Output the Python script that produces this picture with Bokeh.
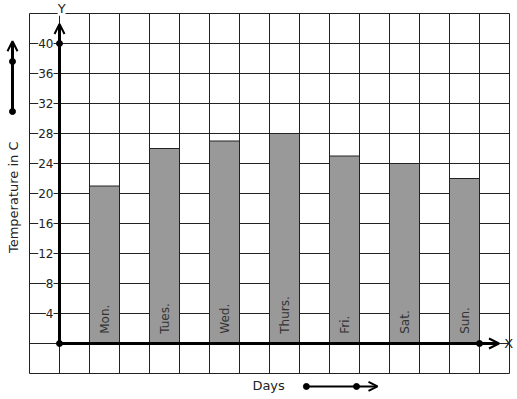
import math
from bokeh.plotting import figure
from bokeh.models import ColumnDataSource, Arrow, OpenHead
from bokeh.core.properties import value
from bokeh.embed import file_html
from bokeh.resources import INLINE

days = ["Mon.", "Tues.", "Wed.", "Thurs.", "Fri.", "Sat.", "Sun."]
temps = [21, 26, 27, 28, 25, 24, 22]
y_ticks = [4, 8, 12, 16, 20, 24, 28, 32, 36, 40]
y_tick_labels = ["4", "8", "12", "16", "20", "24", "28", "32", "36", "40"]

FONT = value("DejaVu Sans")

# pixel scale: 30 px per x unit, 7.5 px per degree; origin at (59, 343)
p = figure(width=517, height=399,
           x_range=(-59 / 30, 458 / 30), y_range=(-56 / 7.5, 343 / 7.5),
           x_axis_type=None, y_axis_type=None, min_border=0,
           toolbar_location=None, output_backend="svg")
p.outline_line_color = None
p.background_fill_color = "white"
p.border_fill_color = "white"

# grid paper
gx0, gx1, gy0, gy1 = -1, 15, -4, 44
xs_v = list(range(gx0, gx1 + 1))
ys_h = list(range(gy0, gy1 + 1, 4))

p.segment(x0=xs_v, y0=[gy0] * len(xs_v), x1=xs_v, y1=[gy1] * len(xs_v),
          line_color="#222222", line_width=1)
p.segment(x0=[gx0] * len(ys_h), y0=ys_h, x1=[gx1] * len(ys_h), y1=ys_h,
          line_color="#222222", line_width=1)

# bars
bar_left = [1 + 2 * i for i in range(len(days))]
bar_center = [b + 0.5 for b in bar_left]
src = ColumnDataSource(dict(x=bar_center, top=temps, label=days))
p.vbar(x="x", top="top", bottom=0, width=1, source=src,
       fill_color="#999999", line_color="#222222", line_width=1)

# bar labels
p.text(x="x", y=1.3, text="label", source=src, angle=math.pi / 2,
       text_align="left", text_baseline="middle", text_font=FONT,
       text_font_size="12px", text_color="#333333")

# axes
p.add_layout(Arrow(x_start=0, y_start=0, x_end=0, y_end=42.6,
                   line_width=3, line_color="black",
                   end=OpenHead(size=10, line_width=2, line_color="black")))
p.add_layout(Arrow(x_start=0, y_start=0, x_end=14.65, y_end=0,
                   line_width=3, line_color="black",
                   end=OpenHead(size=10, line_width=2, line_color="black")))
p.scatter(x=[0, 0, 14], y=[0, 40, 0], size=6, color="black")

# tick labels
p.text(x=[-0.2] * len(y_ticks), y=y_ticks, text=y_tick_labels,
       text_align="right", text_baseline="middle", text_font=FONT,
       text_font_size="12px", text_color="#222222",
       background_fill_color="white")

p.text(x=[0.07], y=[44.7], text=["Y"], text_align="center",
       text_baseline="middle", text_font=FONT, text_font_size="13px",
       text_color="#222222", background_fill_color="white")
p.text(x=[14.97], y=[0], text=["X"], text_align="center",
       text_baseline="middle", text_font=FONT, text_font_size="13px",
       text_color="#222222")

# axis titles
p.text(x=[-1.53], y=[19.5], text=["Temperature in C"], angle=math.pi / 2,
       text_align="center", text_baseline="middle", text_font=FONT,
       text_font_size="13px", text_color="#222222")
p.text(x=[6.97], y=[-5.6], text=["Days"], text_align="center",
       text_baseline="middle", text_font=FONT, text_font_size="13px",
       text_color="#222222")

# decorative arrows
p.add_layout(Arrow(x_start=-1.567, y_start=30.93, x_end=-1.567, y_end=40.3,
                   line_width=3, line_color="black",
                   end=OpenHead(size=10, line_width=2, line_color="black")))
p.scatter(x=[-1.567, -1.567], y=[30.93, 37.6], size=6, color="black")
p.add_layout(Arrow(x_start=8.23, y_start=-5.73, x_end=10.6, y_end=-5.73,
                   line_width=2, line_color="black",
                   end=OpenHead(size=9, line_width=2, line_color="black")))
p.scatter(x=[8.23, 9.9], y=[-5.73, -5.73], size=6, color="black")

open("out.html", "w").write(file_html(p, INLINE))
